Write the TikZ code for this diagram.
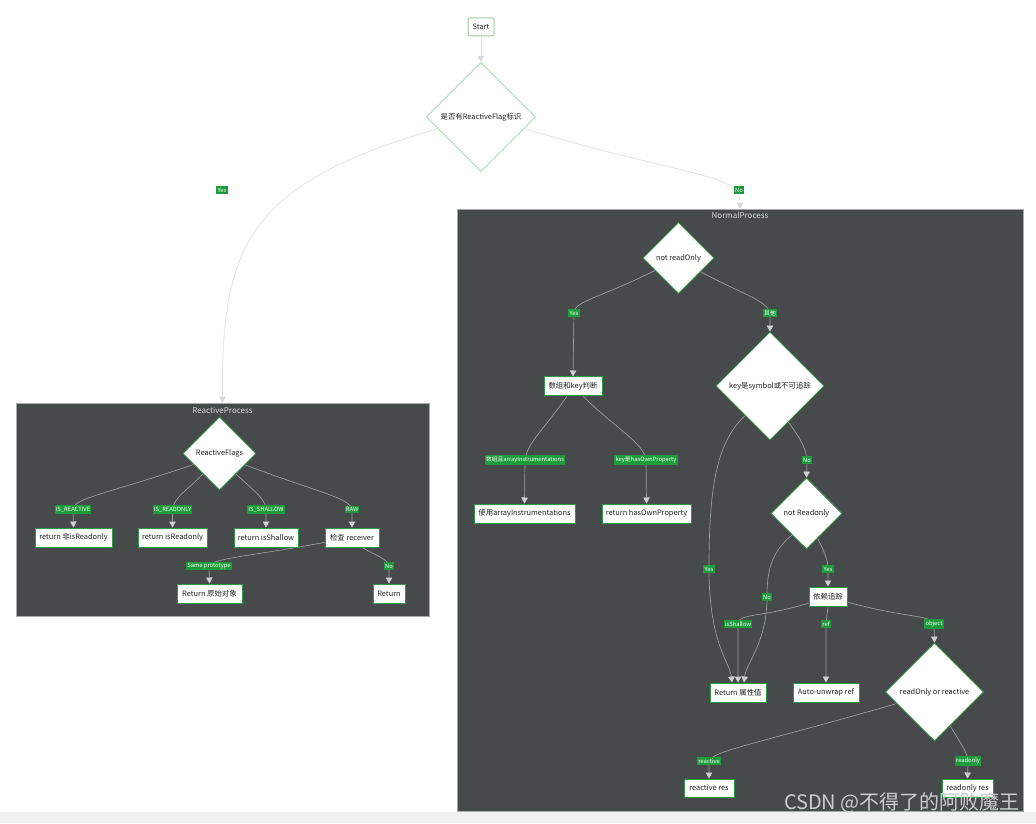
\documentclass[tikz,border=0pt]{standalone}
\usepackage{fontspec}
\setmainfont{Noto Sans CJK SC}
\usetikzlibrary{shapes.geometric,arrows.meta,calc}
\definecolor{clbg}{HTML}{464A4B}
\definecolor{clborder}{HTML}{A8A8A8}
\definecolor{nodeborder}{HTML}{2F9A45}
\definecolor{topborder}{HTML}{98D4A4}
\definecolor{lblgreen}{HTML}{1E9B3A}
\definecolor{edgegray}{HTML}{9C9C9C}
\definecolor{tipgray}{HTML}{CFCFCF}
\definecolor{toptip}{HTML}{D8D8D8}
\definecolor{topedgec}{HTML}{E4E4E4}
\definecolor{txt}{HTML}{222222}
\definecolor{titletxt}{HTML}{DADADA}
\definecolor{wm}{HTML}{CDCDCD}
\pgfdeclarelayer{bg}
\pgfdeclarelayer{edges}
\pgfsetlayers{bg,edges,main}
\tikzset{
  box/.style={draw=nodeborder, line width=1pt, fill=white, text=txt, font=\fontsize{7.4}{8}\selectfont, minimum height=19pt, inner sep=0pt},
  dia/.style={diamond, aspect=1, draw=nodeborder, line width=0.8pt, fill=white, text=txt, font=\fontsize{7.4}{8}\selectfont, inner sep=0pt},
  lbl/.style={fill=lblgreen, text=white, font=\fontsize{5.8}{6}\selectfont, inner xsep=1.2pt, inner ysep=1.6pt},
  conn/.style={draw=edgegray, line width=0.7pt, -{Triangle[width=6.5pt,length=6pt,color=tipgray,fill=tipgray]}},
  topconn/.style={draw=topedgec, line width=0.8pt, -{Triangle[width=6.5pt,length=6pt,color=toptip,fill=toptip]}},
  cluster/.style={draw=clborder, line width=0.6pt, fill=clbg, inner sep=0pt},
  ctitle/.style={text=titletxt, font=\fontsize{8}{9}\selectfont},
}
\begin{document}
\begin{tikzpicture}[x=1pt,y=1pt]
\useasboundingbox (0,0) rectangle (1036,823);
\begin{pgfonlayer}{bg}
\fill[white] (0,0) rectangle (1036,823);
\fill[black!6] (0,0) rectangle (1036,11);
\node[cluster, minimum width=413pt, minimum height=213pt] (rp) at (222.5,313.5) {};
\node[cluster, minimum width=566pt, minimum height=602pt] (np) at (740,313) {};
\end{pgfonlayer}
% titles
\node[ctitle] (rpt) at (222.5,413) {ReactiveProcess};
\node[ctitle] (npt) at (740,608) {NormalProcess};
% top nodes
\node[box, draw=topborder, rounded corners=2pt, minimum width=26pt, minimum height=18pt] (start) at (481,796) {Start};
\node[dia, draw=topborder, minimum width=109pt, minimum height=109pt] (d1) at (481,706) {是否有ReactiveFlag标识};
\node[lbl] (lyes0) at (222,633) {Yes};
\node[lbl] (lno0) at (739,633) {No};
% reactive process
\node[dia, minimum width=73pt, minimum height=73pt] (flags) at (219.5,369.5) {ReactiveFlags};
\node[box, minimum width=77pt] (rA) at (73.5,285.5) {return 非isReadonly};
\node[box, minimum width=69pt] (rB) at (172.5,285.5) {return isReadonly};
\node[box, minimum width=64pt] (rC) at (266,285.5) {return isShallow};
\node[box, minimum width=54pt] (rD) at (352,285.5) {检查 receiver};
\node[box, minimum width=65pt] (rE) at (209.5,229.5) {Return 原始对象};
\node[box, minimum width=32pt] (rF) at (389,229.5) {Return};
\node[lbl] (lA) at (73,313.5) {IS\_REACTIVE};
\node[lbl] (lB) at (172.5,313.5) {IS\_READONLY};
\node[lbl] (lC) at (266,313.5) {IS\_SHALLOW};
\node[lbl] (lD) at (352,313.5) {RAW};
\node[lbl] (lE) at (209,257) {Same prototype};
\node[lbl] (lF) at (389,257) {No};
% normal process
\node[dia, minimum width=71pt, minimum height=71pt] (n1) at (678.5,565) {not readOnly};
\node[box, minimum width=58pt] (n2) at (573,436.5) {数组和key判断};
\node[dia, minimum width=108pt, minimum height=108pt] (n3) at (770,437) {key是symbol或不可追踪};
\node[box, minimum width=101pt] (n4) at (524.5,309.5) {使用arrayInstrumentations};
\node[box, minimum width=89pt] (n5) at (646.5,309.5) {return hasOwnProperty};
\node[dia, minimum width=71pt, minimum height=71pt] (n6) at (806.5,309.5) {not Readonly};
\node[box, minimum width=38pt] (n7) at (828,226.5) {依赖追踪};
\node[box, minimum width=56pt] (n8) at (738,130.5) {Return 属性值};
\node[box, minimum width=66pt] (n9) at (826,130.5) {Auto-unwrap ref};
\node[dia, minimum width=98pt, minimum height=98pt] (n10) at (934.5,131) {readOnly or reactive};
\node[box, minimum width=50pt, minimum height=18pt] (n11) at (709,35) {reactive res};
\node[box, minimum width=51pt, minimum height=18pt] (n12) at (967.5,35) {readonly res};
\node[lbl] (m1) at (574,510) {Yes};
\node[lbl] (m2) at (770,510) {其他};
\node[lbl] (m3) at (525,363) {数组且arrayInstrumentations};
\node[lbl] (m4) at (646,363) {key是hasOwnProperty};
\node[lbl] (m5) at (807,363) {No};
\node[lbl] (m6) at (709,254) {Yes};
\node[lbl] (m7) at (828,254) {Yes};
\node[lbl] (m8) at (767,226) {No};
\node[lbl] (m9) at (738,199) {isShallow};
\node[lbl] (m10) at (826,199) {ref};
\node[lbl] (m11) at (934,199) {object};
\node[lbl] (m12) at (709,62) {reactive};
\node[lbl] (m13) at (968,62) {readonly};
% watermark
\node[text=wm, font=\fontsize{20}{22}\selectfont, anchor=base east, inner sep=0pt] (wmk) at (1020,14) {CSDN @不得了的阿败魔王};
% edges
\begin{pgfonlayer}{edges}
\draw[topconn] (start.south) -- (d1.north);
\draw[topconn] (d1.195) .. controls (250,640) and (221,580) .. (rp.north);
\draw[topconn] (d1.-15) .. controls (690,645) and (740,650) .. (np.north);
\draw[conn] (flags.203) .. controls (110,330) and (73,325) .. (lA.center) -- (rA.north);
\draw[conn] (flags.231) .. controls (190,335) and (173,325) .. (lB.center) -- (rB.north);
\draw[conn] (flags.309) .. controls (250,335) and (266,325) .. (lC.center) -- (rC.north);
\draw[conn] (flags.336) .. controls (320,330) and (350,325) .. (lD.center) -- (rD.north);
\draw[conn] (rD.190) .. controls (260,268) and (212,265) .. (lE.center) -- (rE.north);
\draw[conn] (rD.-45) .. controls (375,268) and (388,264) .. (lF.center) -- (rF.north);
\draw[conn] (n1.208) .. controls (600,525) and (574,522) .. (m1.center) -- (n2.north);
\draw[conn] (n1.328) .. controls (740,530) and (768,522) .. (m2.center) -- (n3.north);
\draw[conn] (n2.238) .. controls (545,395) and (527,380) .. (m3.center) -- (n4.north);
\draw[conn] (n2.-44) .. controls (615,395) and (644,380) .. (m4.center) -- (n5.north);
\draw[conn] (n3.-63) .. controls (800,385) and (806,375) .. (m5.center) -- (n6.north);
\draw[conn] (n3.230) .. controls (715,380) and (709,330) .. (m6.center) .. controls (709,180) and (730,160) .. ($(n8.north)+(-6,0)$);
\draw[conn] (n6.236) .. controls (770,270) and (767,250) .. (m8.center) .. controls (767,180) and (746,160) .. ($(n8.north)+(6,0)$);
\draw[conn] (n6.-66) .. controls (825,270) and (828,262) .. (m7.center) -- (n7.north);
\draw[conn] (n7.199) .. controls (760,205) and (738,210) .. (m9.center) -- (n8.north);
\draw[conn] (n7.south) -- (m10.center) -- (n9.north);
\draw[conn] (n7.-16) .. controls (905,205) and (932,208) .. (m11.center) -- (n10.north);
\draw[conn] (n10.197) .. controls (760,80) and (712,72) .. (m12.center) -- (n11.north);
\draw[conn] (n10.-65) .. controls (960,80) and (967,72) .. (m13.center) -- (n12.north);
\end{pgfonlayer}
\end{tikzpicture}
\end{document}
